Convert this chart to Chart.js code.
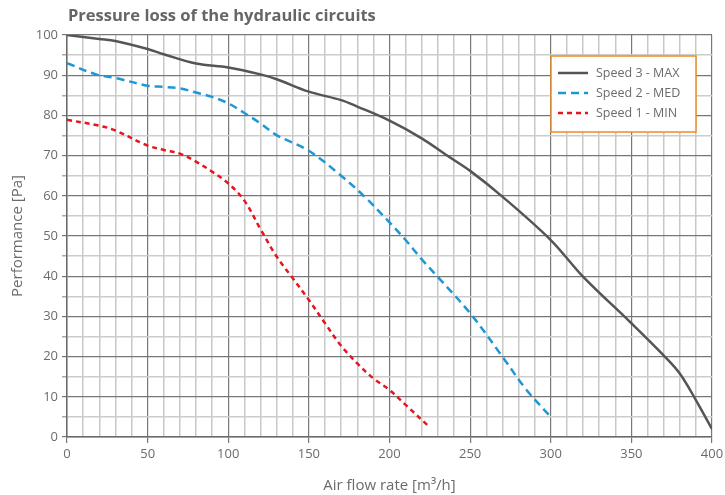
<!DOCTYPE html>
<html>
<head>
<meta charset="utf-8">
<script src="https://cdn.jsdelivr.net/npm/chart.js@4/dist/chart.umd.min.js"></script>
<style>
html,body{margin:0;padding:0;background:#fff;}
#wrap{width:725px;height:495px;position:relative;}
</style>
</head>
<body>
<div id="wrap"><canvas id="c" width="725" height="495"></canvas></div>
<script>
const chartTitle = "Pressure loss of the hydraulic circuits";
const xAxisTitle = "Air flow rate [m³/h]";
const yAxisTitle = "Performance [Pa]";

const labels3 = "Speed 3 - MAX";
const x3 = [0,20,30,50,60,80,100,120,130,150,170,180,200,220,235,250,270,300,320,350,370,380,390,400];
const y3 = [100,99,98.5,96.5,95.2,92.9,91.9,90.2,89,85.9,83.8,82.2,78.7,74.3,70.2,66.2,59.8,49,39.9,28.3,20.3,15.8,9.2,2];

const labels2 = "Speed 2 - MED";
const x2 = [0,18,29,50,60,70,80,90,100,110,120,130,150,170,184,200,210,220,230,250,270,285,300];
const y2 = [93,90.2,89.4,87.4,87.1,86.7,85.7,84.6,83,80.6,78,75.1,71.2,65,60,53.4,49,44.2,39.8,30.8,20,11.7,5];

const labels1 = "Speed 1 - MIN";
const x1 = [0,18,29,50,60,70,80,90,100,110,120,130,140,150,160,170,180,190,200,210,225];
const y1 = [78.9,77.6,76.4,72.5,71.4,70.5,68.5,66,63.1,58.8,51.7,44.9,39.5,34.1,28.3,22.7,18.3,14.6,11.7,8,2.4];

const xMin = 0, xMax = 400, xMinor = 10, xMajor = 50;
const yMin = 0, yMax = 100, yMinor = 5, yMajor = 10;

const FONT = "'Open Sans', sans-serif";
const TXT = '#6b6b6b';

function pts(xs, ys){ return xs.map((x,i)=>({x:x,y:ys[i]})); }

const legendPlugin = {
  id:'boxLegend',
  afterDraw(chart){
    const ctx = chart.ctx, a = chart.chartArea;
    const w = 145, h = 76;
    const left = a.right - 161, top = a.top + 21;
    ctx.save();
    ctx.fillStyle = '#fff';
    ctx.fillRect(left, top, w, h);
    ctx.strokeStyle = '#f08a24';
    ctx.lineWidth = 1.5;
    ctx.strokeRect(left, top, w, h);
    ctx.font = "12.5px " + FONT;
    ctx.textBaseline = 'middle';
    chart.data.datasets.forEach((ds,i)=>{
      const y = top + 17 + i*20;
      ctx.beginPath();
      ctx.setLineDash(ds.borderDash || []);
      ctx.strokeStyle = ds.borderColor;
      ctx.lineWidth = ds.borderWidth;
      ctx.moveTo(left+7, y); ctx.lineTo(left+37, y);
      ctx.stroke();
      ctx.setLineDash([]);
      ctx.fillStyle = TXT;
      ctx.fillText(ds.label, left+45, y);
    });
    ctx.restore();
  }
};

const titlePlugin = {
  id:'leftTitle',
  afterDraw(chart){
    const ctx = chart.ctx, a = chart.chartArea;
    ctx.save();
    ctx.font = "bold 16.5px " + FONT;
    ctx.fillStyle = '#666';
    ctx.textBaseline = 'middle';
    ctx.fillText(chartTitle, a.left + 1, 16);
    ctx.restore();
  }
};

new Chart(document.getElementById('c'), {
  type:'line',
  data:{
    datasets:[
      {label:labels3, data:pts(x3,y3), borderColor:'#555555', borderWidth:2.5, pointRadius:0, tension:0.35, fill:false},
      {label:labels2, data:pts(x2,y2), borderColor:'#1d98d6', borderWidth:2.5, borderDash:[8,5], pointRadius:0, tension:0.35, fill:false},
      {label:labels1, data:pts(x1,y1), borderColor:'#e8141e', borderWidth:2.5, borderDash:[5,4], pointRadius:0, tension:0.35, fill:false}
    ]
  },
  options:{
    responsive:false,
    animation:false,
    layout:{padding:{top:35,right:13,left:0,bottom:0}},
    plugins:{legend:{display:false}, title:{display:false}, tooltip:{enabled:false}},
    scales:{
      x:{
        type:'linear', min:xMin, max:xMax,
        ticks:{stepSize:xMinor, autoSkip:false, maxRotation:0, color:TXT, font:{family:FONT,size:13},
          callback:(v)=> (v % xMajor === 0 ? String(v) : '')},
        grid:{
          color:(c)=> (c.tick && c.tick.value % xMajor === 0) ? '#777777' : '#c8c8c8',
          lineWidth:(c)=> (c.tick && c.tick.value % xMajor === 0) ? 1.2 : 1.5,
          tickColor:(c)=> (c.tick && c.tick.value % xMajor === 0) ? '#777777' : 'rgba(0,0,0,0)',
          tickLength:6
        },
        border:{color:'#6a6a6a', width:1.5},
        title:{display:true, text:xAxisTitle, color:TXT, font:{family:FONT,size:15}, padding:{top:16,bottom:0}},
        afterFit:(s)=>{ s.height = 58; s.paddingRight = 0; s.paddingLeft = 0; }
      },
      y:{
        min:yMin, max:yMax,
        ticks:{stepSize:yMinor, autoSkip:false, color:TXT, font:{family:FONT,size:13}, padding:4,
          callback:(v)=> (v % yMajor === 0 ? String(v) : '')},
        grid:{
          color:(c)=> (c.tick && c.tick.value % yMajor === 0) ? '#777777' : '#cccccc',
          lineWidth:(c)=> (c.tick && c.tick.value % yMajor === 0) ? 1.2 : 1.5,
          tickColor:(c)=> (c.tick && c.tick.value % yMajor === 0) ? '#777777' : '#aaaaaa',
          tickLength:5
        },
        border:{color:'#6a6a6a', width:1.5},
        title:{display:true, text:yAxisTitle, color:TXT, font:{family:FONT,size:15}, padding:{top:9,bottom:0}},
        afterFit:(s)=>{ s.width = 67; s.paddingTop = 0; s.paddingBottom = 0; }
      }
    }
  },
  plugins:[titlePlugin, legendPlugin]
});
</script>
</body>
</html>
